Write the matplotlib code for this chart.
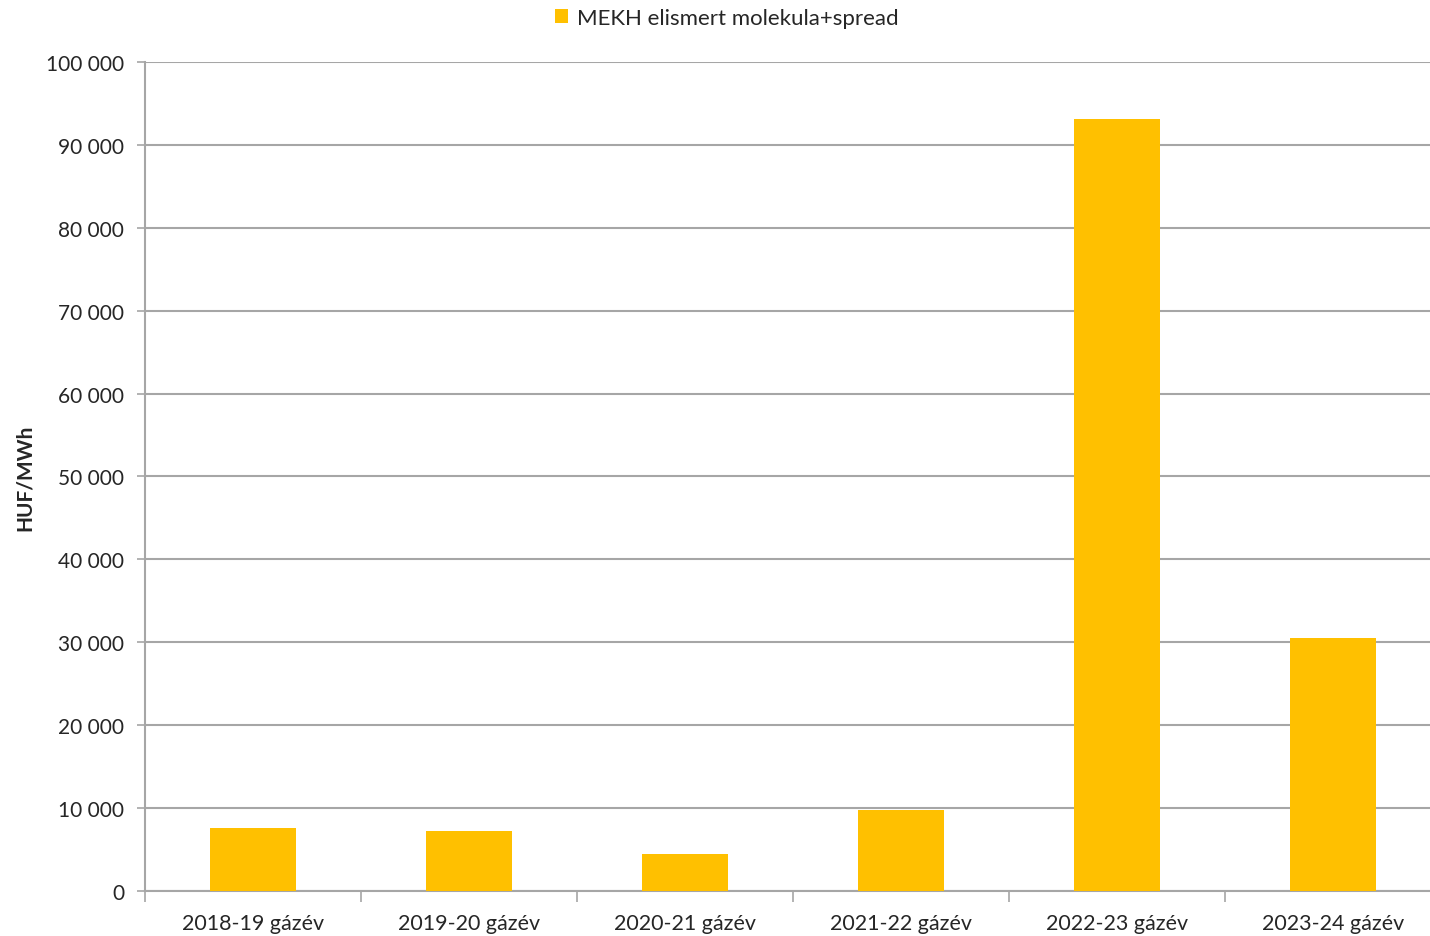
import numpy as np
import matplotlib.pyplot as plt
from matplotlib.ticker import FuncFormatter, FixedLocator

plt.rcParams['font.family'] = ['Lato', 'DejaVu Sans']

categories = ['2018-19 gázév', '2019-20 gázév', '2020-21 gázév',
              '2021-22 gázév', '2022-23 gázév', '2023-24 gázév']
values = [7600, 7200, 4500, 9800, 93100, 30500]
series_name = 'MEKH elismert molekula+spread'

bar_color = '#FFC000'
grid_color = '#A6A6A6'
text_color = '#262626'

fig = plt.figure(figsize=(14.3, 9.37), dpi=100)
ax = fig.add_axes([0.1014, 0.048, 0.9063, 0.8848])

x = np.arange(len(categories))
ax.bar(x, values, width=0.4, color=bar_color, label=series_name, zorder=3)

ax.set_xlim(-0.5, len(categories) - 0.5)
ax.set_ylim(0, 100000)
ax.set_yticks(np.arange(0, 100001, 10000))
ax.yaxis.set_major_formatter(FuncFormatter(lambda v, p: f'{int(v):,}'.replace(',', ' ')))
ax.grid(axis='y', color=grid_color, linewidth=1.5, zorder=0)

ax.set_xticks(x)
ax.set_xticklabels(categories)
ax.xaxis.set_minor_locator(FixedLocator(np.arange(-0.5, len(categories) + 0.5, 1)))
ax.tick_params(axis='x', which='major', length=0, pad=16, labelsize=15.5, labelcolor=text_color)
ax.tick_params(axis='x', which='minor', length=8, width=1.2, color=grid_color)
ax.tick_params(axis='y', length=6, width=1.2, color=grid_color, pad=9, labelsize=15, labelcolor=text_color)

for s in ['top', 'right']:
    ax.spines[s].set_visible(False)
for s in ['left', 'bottom']:
    ax.spines[s].set_color(grid_color)
    ax.spines[s].set_linewidth(1.5)

ax.set_ylabel('HUF/MWh', fontsize=15, fontweight='bold', color=text_color, labelpad=8)

fig.legend(loc='upper center', bbox_to_anchor=(0.508, 1.012), frameon=False,
           fontsize=16, handlelength=0.6, handleheight=0.6, handletextpad=0.4,
           labelcolor=text_color)

fig.savefig('out.png', dpi=100)
